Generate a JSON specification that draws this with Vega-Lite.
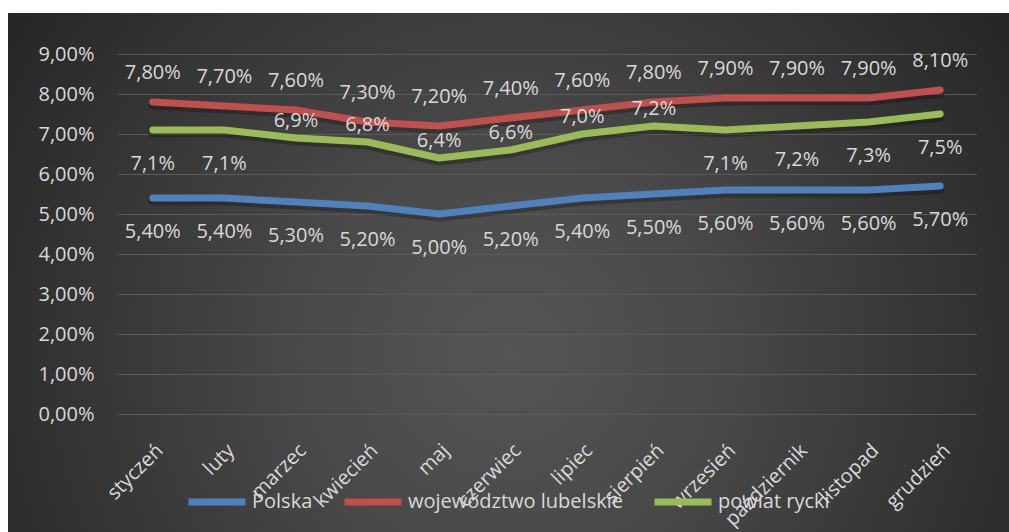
{
  "$schema": "https://vega.github.io/schema/vega-lite/v6.json",
  "width": 1001,
  "height": 519,
  "autosize": {"type": "none"},
  "padding": {"left": 8, "top": 13, "right": 0, "bottom": 0},
  "background": "#ffffff",
  "config": {
    "locale": {"number": {"decimal": ",", "thousands": " ", "grouping": [3], "currency": ["", " zł"]}},
    "font": "Open Sans",
    "view": {
      "stroke": null,
      "fill": {
        "gradient": "radial",
        "x1": 0.5, "y1": 0.58, "r1": 0,
        "x2": 0.5, "y2": 0.58, "r2": 0.62,
        "stops": [
          {"offset": 0, "color": "#555555"},
          {"offset": 0.35, "color": "#484848"},
          {"offset": 1, "color": "#242424"}
        ]
      }
    }
  },
  "data": {
    "values": [
      {"month": "styczeń", "series": "Polska", "value": 0.054},
      {"month": "luty", "series": "Polska", "value": 0.054},
      {"month": "marzec", "series": "Polska", "value": 0.053},
      {"month": "kwiecień", "series": "Polska", "value": 0.052},
      {"month": "maj", "series": "Polska", "value": 0.050},
      {"month": "czerwiec", "series": "Polska", "value": 0.052},
      {"month": "lipiec", "series": "Polska", "value": 0.054},
      {"month": "sierpień", "series": "Polska", "value": 0.055},
      {"month": "wrzesień", "series": "Polska", "value": 0.056},
      {"month": "październik", "series": "Polska", "value": 0.056},
      {"month": "listopad", "series": "Polska", "value": 0.056},
      {"month": "grudzień", "series": "Polska", "value": 0.057},
      {"month": "styczeń", "series": "województwo lubelskie", "value": 0.078},
      {"month": "luty", "series": "województwo lubelskie", "value": 0.077},
      {"month": "marzec", "series": "województwo lubelskie", "value": 0.076},
      {"month": "kwiecień", "series": "województwo lubelskie", "value": 0.073},
      {"month": "maj", "series": "województwo lubelskie", "value": 0.072},
      {"month": "czerwiec", "series": "województwo lubelskie", "value": 0.074},
      {"month": "lipiec", "series": "województwo lubelskie", "value": 0.076},
      {"month": "sierpień", "series": "województwo lubelskie", "value": 0.078},
      {"month": "wrzesień", "series": "województwo lubelskie", "value": 0.079},
      {"month": "październik", "series": "województwo lubelskie", "value": 0.079},
      {"month": "listopad", "series": "województwo lubelskie", "value": 0.079},
      {"month": "grudzień", "series": "województwo lubelskie", "value": 0.081},
      {"month": "styczeń", "series": "powiat rycki", "value": 0.071},
      {"month": "luty", "series": "powiat rycki", "value": 0.071},
      {"month": "marzec", "series": "powiat rycki", "value": 0.069},
      {"month": "kwiecień", "series": "powiat rycki", "value": 0.068},
      {"month": "maj", "series": "powiat rycki", "value": 0.064},
      {"month": "czerwiec", "series": "powiat rycki", "value": 0.066},
      {"month": "lipiec", "series": "powiat rycki", "value": 0.070},
      {"month": "sierpień", "series": "powiat rycki", "value": 0.072},
      {"month": "wrzesień", "series": "powiat rycki", "value": 0.071},
      {"month": "październik", "series": "powiat rycki", "value": 0.072},
      {"month": "listopad", "series": "powiat rycki", "value": 0.073},
      {"month": "grudzień", "series": "powiat rycki", "value": 0.075}
    ]
  },
  "encoding": {
    "x": {
      "field": "month",
      "type": "nominal",
      "sort": ["styczeń", "luty", "marzec", "kwiecień", "maj", "czerwiec", "lipiec", "sierpień", "wrzesień", "październik", "listopad", "grudzień"],
      "scale": {"type": "band", "range": [109, 968], "paddingInner": 0, "paddingOuter": 0},
      "axis": {
        "title": null,
        "orient": "bottom",
        "offset": -118,
        "labelAngle": -45,
        "labelFontSize": 20,
        "labelColor": "#d9d9d9",
        "labelPadding": 26,
        "labelLimit": 300,
        "domain": false,
        "ticks": false,
        "grid": false,
        "labelOverlap": false
      }
    },
    "y": {
      "field": "value",
      "type": "quantitative",
      "scale": {"domain": [-0.0295, 0.10025], "nice": false, "zero": false},
      "axis": {
        "title": null,
        "values": [0, 0.01, 0.02, 0.03, 0.04, 0.05, 0.06, 0.07, 0.08, 0.09],
        "format": ".2%",
        "offset": -109,
        "labelPadding": 23,
        "labelFontSize": 20,
        "labelColor": "#d9d9d9",
        "domain": false,
        "ticks": false,
        "grid": true,
        "gridColor": "#5a5a5a",
        "gridWidth": 1
      }
    }
  },
  "layer": [
    {
      "mark": {"type": "line", "strokeWidth": 9, "strokeCap": "round", "strokeJoin": "round", "color": "#000000", "opacity": 0.25, "yOffset": 3},
      "encoding": {"detail": {"field": "series", "type": "nominal"}}
    },
    {
      "mark": {"type": "line", "strokeWidth": 7, "strokeCap": "round", "strokeJoin": "round"},
      "encoding": {
        "color": {
          "field": "series",
          "type": "nominal",
          "sort": ["Polska", "województwo lubelskie", "powiat rycki"],
          "scale": {"domain": ["Polska", "województwo lubelskie", "powiat rycki"], "range": ["#4F81BD", "#C0504D", "#9BBB59"]},
          "legend": {
            "title": null,
            "orient": "none",
            "direction": "horizontal",
            "legendX": 177,
            "legendY": 457,
            "symbolType": "stroke",
            "symbolSize": 3249,
            "symbolStrokeWidth": 7,
            "labelFontSize": 20,
            "labelColor": "#d9d9d9",
            "labelOffset": 3,
            "labelLimit": 400,
            "columnPadding": 17
          }
        }
      }
    },
    {
      "transform": [{"filter": "datum.series === 'województwo lubelskie'"}],
      "mark": {"type": "text", "fontSize": 20, "color": "#d9d9d9", "dy": -29, "baseline": "middle", "align": "center"},
      "encoding": {"text": {"field": "value", "type": "quantitative", "format": ".2%"}}
    },
    {
      "transform": [{"filter": "datum.series === 'Polska'"}],
      "mark": {"type": "text", "fontSize": 20, "color": "#d9d9d9", "dy": 34, "baseline": "middle", "align": "center"},
      "encoding": {"text": {"field": "value", "type": "quantitative", "format": ".2%"}}
    },
    {
      "transform": [
        {"filter": "datum.series === 'powiat rycki'"},
        {"filter": {"field": "month", "oneOf": ["marzec", "kwiecień", "maj", "czerwiec", "lipiec", "sierpień"]}}
      ],
      "mark": {"type": "text", "fontSize": 20, "color": "#d9d9d9", "dy": -17, "baseline": "middle", "align": "center"},
      "encoding": {"text": {"field": "value", "type": "quantitative", "format": ".1%"}}
    },
    {
      "transform": [
        {"filter": "datum.series === 'powiat rycki'"},
        {"filter": {"field": "month", "oneOf": ["styczeń", "luty", "wrzesień", "październik", "listopad", "grudzień"]}}
      ],
      "mark": {"type": "text", "fontSize": 20, "color": "#d9d9d9", "dy": 34, "baseline": "middle", "align": "center"},
      "encoding": {"text": {"field": "value", "type": "quantitative", "format": ".1%"}}
    }
  ]
}
